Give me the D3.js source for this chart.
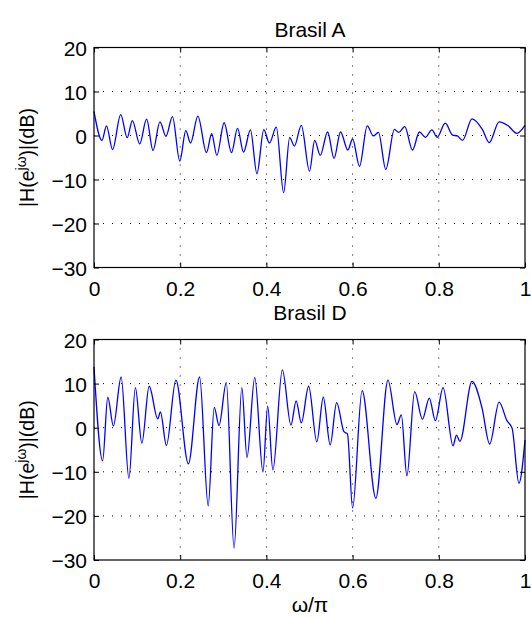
<!DOCTYPE html>
<html>
<head>
<meta charset="utf-8">
<script src="https://cdn.jsdelivr.net/npm/d3@7"></script>
<style>
  body { margin: 0; background: #fff; }
  svg text { font-family: "Liberation Sans", Arial, Helvetica, sans-serif; fill: #000; }
</style>
</head>
<body>
<svg id="chart"></svg>
<script>
// x tick values and y tick values (same for both panels)
var xTicks = [0, 0.2, 0.4, 0.6, 0.8, 1];
var yTicks = [-30, -20, -10, 0, 10, 20];

// Brasil A : normalized frequency and magnitude (dB)
var freqA = [0, 0.0185, 0.029, 0.043, 0.062, 0.077, 0.089, 0.106, 0.122, 0.137, 0.153, 0.167, 0.182, 0.199,
  0.213, 0.224, 0.241, 0.261, 0.273, 0.285, 0.302, 0.319, 0.333, 0.347, 0.363, 0.378, 0.394, 0.407, 0.423,
  0.44, 0.454, 0.465, 0.481, 0.5, 0.512, 0.525, 0.542, 0.557, 0.572, 0.589, 0.6, 0.616, 0.634, 0.648, 0.66,
  0.677, 0.697, 0.707, 0.721, 0.739, 0.755, 0.769, 0.784, 0.796, 0.815, 0.832, 0.843, 0.855, 0.877, 0.901,
  0.917, 0.94, 0.961, 0.981, 1.0];
var magA = [5.5, -1.1, 2.2, -3.2, 4.75, -0.5, 3.4, -1.9, 3.7, -3.4, 3.1, -0.2, 4.3, -5.8,
  1.1, -1.7, 4.4, -3.9, 0.4, -4.5, 2.9, -3.9, 1.6, -3.8, 1.3, -8.7, 1.35, -1.7, 1.9,
  -13, -0.5, -2.4, 2.3, -8.1, -1.1, -4.5, 0.8, -5.2, 0.8, -3.3, -0.8, -7, 2.2, -0.1, 0.7,
  -7.7, 1.4, 0.7, 2, -3.3, 0.8, -0.4, 1.3, -0.4, 2.8, 0.1, -0.1, -1.1, 3.8, 1.4,
  -1.6, 3.1, 2.2, 0.5, 2.3];

// Brasil D
var freqD = [0, 0.02, 0.032, 0.045, 0.063, 0.081, 0.096, 0.111, 0.128, 0.148, 0.154, 0.168, 0.19, 0.219,
  0.245, 0.265, 0.279, 0.29, 0.307, 0.325, 0.343, 0.355, 0.373, 0.392, 0.403, 0.415, 0.437, 0.457, 0.469,
  0.481, 0.498, 0.517, 0.532, 0.548, 0.563, 0.58, 0.588, 0.6, 0.622, 0.654, 0.682, 0.703, 0.713, 0.726,
  0.744, 0.762, 0.778, 0.792, 0.81, 0.833, 0.841, 0.849, 0.877, 0.9, 0.918, 0.94, 0.958, 0.97, 0.986, 1.0];
var magD = [13.8, -7.5, 6.9, 0.4, 11.5, -11.5, 9.1, -3.5, 9.4, 2.0, 3.6, -4, 10.8, -8.2,
  11.5, -17.7, 4.6, 0.5, 10.2, -27.3, 9.1, -6.7, 11.4, -10, 4.9, -9.6, 13.1, 0.6, 6.1,
  1.1, 9.4, -3.2, 6.9, -3.9, 5.7, -0.9, -1.4, -18.2, 8.4, -16, 10.8, 0.7, 2.9, -10.9,
  8.2, 1.9, 6.7, 1.6, 9.1, -4.1, -1.7, -3.1, 10.5, 4.6, -3.7, 5.8, 1.6, -0.1, -12.6, -2.8];

var width = 531, height = 618;
var svg = d3.select("#chart").attr("width", width).attr("height", height);

var left = 94, right = 525;
var fs = 21;   //font size of labels
var xScale = d3.scaleLinear().domain([0, 1]).range([left, right]);

function fmt(v) {
  return v < 0 ? "\u2212" + Math.abs(v) : String(v);
}

//Draw one panel
function drawPanel(top, bottom, freq, mag) {
  var yScale = d3.scaleLinear().domain([-30, 20]).range([bottom, top]);
  var g = svg.append("g");

  //dotted grid
  g.selectAll(".vgrid").data(xTicks.slice(1, -1)).enter().append("line")
    .attr("x1", d => xScale(d)).attr("x2", d => xScale(d))
    .attr("y1", top).attr("y2", bottom)
    .attr("stroke", "#000").attr("stroke-width", 1)
    .attr("stroke-dasharray", "1,8");
  g.selectAll(".hgrid").data(yTicks.slice(1, -1)).enter().append("line")
    .attr("y1", d => yScale(d)).attr("y2", d => yScale(d))
    .attr("x1", left).attr("x2", right)
    .attr("stroke", "#000").attr("stroke-width", 1)
    .attr("stroke-dasharray", "1,8");

  //the curve
  var line = d3.line()
    .x((d, i) => xScale(freq[i]))
    .y(d => yScale(d))
    .curve(d3.curveMonotoneX);
  g.append("path")
    .attr("d", line(mag))
    .attr("fill", "none")
    .attr("stroke", "#0000ff")
    .attr("stroke-width", 1.3);

  //inward ticks on every side
  var tl = 5;
  var xa = g.append("g").attr("transform", "translate(0," + bottom + ")")
    .call(d3.axisBottom(xScale).tickValues(xTicks).tickSizeInner(-tl).tickSizeOuter(0).tickFormat(d3.format("~g")));
  xa.select(".domain").remove();
  xa.selectAll("text").attr("y", 28).attr("dy", 0);

  g.append("g").attr("transform", "translate(0," + top + ")")
    .call(d3.axisTop(xScale).tickValues(xTicks).tickSizeInner(-tl).tickSizeOuter(0).tickFormat(""))
    .call(a => a.select(".domain").remove());

  var ya = g.append("g").attr("transform", "translate(" + left + ",0)")
    .call(d3.axisLeft(yScale).tickValues(yTicks).tickSizeInner(-tl).tickSizeOuter(0).tickFormat(fmt));
  ya.select(".domain").remove();
  ya.selectAll("text").attr("x", -7).attr("dy", "0.36em");

  g.append("g").attr("transform", "translate(" + right + ",0)")
    .call(d3.axisRight(yScale).tickValues(yTicks).tickSizeInner(-tl).tickSizeOuter(0).tickFormat(""))
    .call(a => a.select(".domain").remove());

  g.selectAll(".tick text").attr("font-size", fs);
  g.selectAll(".tick line").attr("stroke", "#000");

  //box
  g.append("rect")
    .attr("x", left).attr("y", top)
    .attr("width", right - left).attr("height", bottom - top)
    .attr("fill", "none").attr("stroke", "#000").attr("stroke-width", 1.2);

  //y axis label
  var yl = g.append("text")
    .attr("transform", "translate(34," + ((top + bottom) / 2) + ") rotate(-90)")
    .attr("text-anchor", "middle")
    .attr("font-size", 19.5);
  yl.append("tspan").text("|H(e");
  yl.append("tspan").attr("font-size", 14).attr("dy", -8).text("j\u03c9");
  yl.append("tspan").attr("dy", 8).text(")|(dB)");

  return g;
}

drawPanel(47.5, 267.5, freqA, magA);
drawPanel(339.5, 560, freqD, magD);

//titles and x label
svg.append("text").attr("x", 310).attr("y", 37).attr("text-anchor", "middle")
  .attr("font-size", fs).text("Brasil A");
svg.append("text").attr("x", 310).attr("y", 320).attr("text-anchor", "middle")
  .attr("font-size", fs).text("Brasil D");
svg.append("text").attr("x", 310).attr("y", 612).attr("text-anchor", "middle")
  .attr("font-size", fs).text("\u03c9/\u03c0");
</script>
</body>
</html>
